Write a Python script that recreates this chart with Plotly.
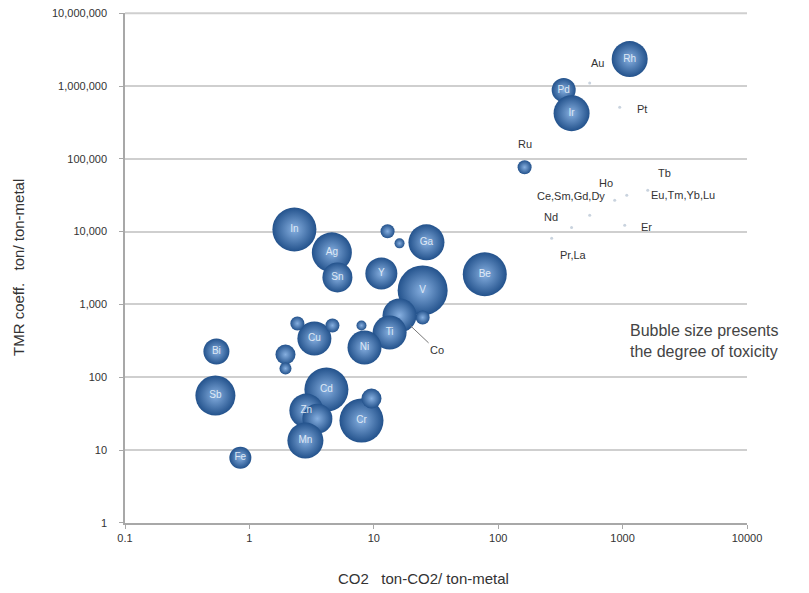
import math
import plotly.graph_objects as go

# ---- data ----
# labelled / unlabelled bubbles (CO2, TMR, toxicity)
bubble_names = ["In", "Ag", "Sn", "", "", "Ga", "Y", "V", "Be", "", "", "Ti",
                "Cu", "", "", "Ni", "", "Bi", "", "", "Sb", "Cd", "Zn", "", "Mn",
                "Cr", "", "Fe", "Rh", "Pd", "Ir", ""]
bubble_co2 = [2.3, 4.6, 5.1, 12.9, 16.1, 26.5, 11.5, 24.7, 78, 24.7, 16.1, 13.4,
              3.33, 2.43, 4.65, 8.42, 7.96, 0.543, 1.95, 1.95, 0.533, 4.16, 2.87, 3.52, 2.82,
              7.96, 9.58, 0.846, 1140, 336, 389, 163]
bubble_tmr = [10700, 5190, 2350, 10100, 6900, 7130, 2670, 1560, 2600, 662, 707, 412,
              340, 548, 514, 256, 514, 226, 205, 132, 56, 67.6, 34.8, 27, 13.5,
              25.4, 51, 7.85, 2350000, 880000, 424000, 76600]
toxicity = [22, 20, 15, 7, 5, 18, 16, 25, 22, 7, 17, 17,
            17, 7, 7, 17, 5, 13, 10, 6, 20, 22, 17, 15, 18,
            22, 10, 11, 18, 12, 18, 7]

# small points with outside labels
point_names = ["Au", "Pt", "Tb", "Ho", "Ce,Sm,Gd,Dy", "Eu,Tm,Yb,Lu", "Nd", "Er", "Pr,La"]
point_co2 = [544, 948, 1592, 864, 544, 1080, 389, 1040, 269]
point_tmr = [1100000, 513000, 37000, 27000, 16800, 31600, 11400, 12200, 8100]
label_dx = [8, 22, 17, -9, -19, 56, -21, 22, 22]
label_dy = [20, -2, 17, 17, 19, 0, 10, -2, -17]

x_ticks = [0.1, 1, 10, 100, 1000, 10000]
x_ticktext = ["0.1", "1", "10", "100", "1000", "10000"]
y_ticks = [1, 10, 100, 1000, 10000, 100000, 1000000, 10000000]
y_ticktext = ["1", "10", "100", "1,000", "10,000", "100,000", "1,000,000", "10,000,000"]

FONT = "Liberation Sans, Arial"
Y_RANGE = [-0.002, 7.003]

fig = go.Figure()

fig.add_trace(go.Scatter(
    x=point_co2, y=point_tmr, mode="markers",
    marker=dict(size=3, color="#c9d3de", line=dict(width=0)),
    hoverinfo="skip", showlegend=False,
))

fig.add_trace(go.Scatter(
    x=bubble_co2, y=bubble_tmr, mode="markers+text",
    text=bubble_names, textposition="middle center",
    textfont=dict(family=FONT, size=10, color="#dfe8f4"),
    marker=dict(size=toxicity, sizemode="diameter", sizeref=0.5,
                color="#23528c", opacity=1,
                gradient=dict(type="radial", color="#86afe0"),
                line=dict(width=0)),
    showlegend=False, hoverinfo="text",
))

lg = math.log10
annotations = []
for n, xv, yv, dx, dy in zip(point_names, point_co2, point_tmr, label_dx, label_dy):
    annotations.append(dict(x=lg(xv), y=lg(yv), xref="x", yref="y", text=n, showarrow=False,
                            xshift=dx, yshift=dy,
                            font=dict(family=FONT, size=11, color="#333")))
# Ruthenium label above its bubble
annotations.append(dict(x=lg(bubble_co2[31]), y=lg(bubble_tmr[31]), xref="x", yref="y", text="Ru",
                        showarrow=False, yshift=23,
                        font=dict(family=FONT, size=11, color="#333")))
# Cobalt with leader line
annotations.append(dict(x=lg(bubble_co2[10]), y=lg(bubble_tmr[10]), xref="x", yref="y", text="Co",
                        showarrow=True, arrowhead=0, arrowwidth=1, arrowcolor="#777",
                        ax=37, ay=35, standoff=15,
                        font=dict(family=FONT, size=11, color="#333")))
annotations.append(dict(x=0.809, y=0.357, xref="paper", yref="paper", xanchor="left",
                        yanchor="middle", align="left", showarrow=False,
                        text="Bubble size presents<br>the degree of toxicity",
                        font=dict(family=FONT, size=16, color="#444")))
annotations.append(dict(x=0.48, y=-0.108, xref="paper", yref="paper", xanchor="center",
                        yanchor="middle", showarrow=False,
                        text="CO2\u00a0\u00a0\u00a0ton-CO2/ ton-metal",
                        font=dict(family=FONT, size=15, color="#333")))
annotations.append(dict(x=-0.172, y=0.5, xref="paper", yref="paper", xanchor="center",
                        yanchor="middle", showarrow=False, textangle=-90,
                        text="TMR coeff.\u00a0\u00a0\u00a0ton/ ton-metal",
                        font=dict(family=FONT, size=15, color="#333")))

# top gridline (plotly clips gridlines lying on the plot edge)
top_frac = (lg(y_ticks[-1]) - Y_RANGE[0]) / (Y_RANGE[1] - Y_RANGE[0])
shapes = [dict(type="line", xref="paper", yref="paper", x0=0, x1=1,
               y0=top_frac, y1=top_frac, line=dict(color="#cfcfcf", width=2), layer="below")]

fig.update_layout(
    width=801, height=585,
    margin=dict(l=117, r=62, t=5, b=70),
    paper_bgcolor="white", plot_bgcolor="white",
    annotations=annotations, shapes=shapes,
    xaxis=dict(type="log", range=[-1, 4], tickvals=x_ticks, ticktext=x_ticktext,
               showgrid=False, zeroline=False, showline=True, linecolor="#a8a8a8",
               linewidth=1.5, ticks="outside", ticklen=4, tickcolor="#a8a8a8",
               automargin=False, ticklabeloverflow="allow",
               tickfont=dict(family=FONT, size=11, color="#333")),
    yaxis=dict(type="log", range=Y_RANGE, tickvals=y_ticks, ticktext=y_ticktext,
               showgrid=True, gridcolor="#cfcfcf", gridwidth=2, zeroline=False,
               showline=True, linecolor="#a8a8a8", linewidth=1.5, automargin=False,
               ticklabeloverflow="allow",
               ticks="outside", ticklen=4, tickcolor="#a8a8a8", ticklabelstandoff=10,
               tickfont=dict(family=FONT, size=11, color="#333")),
)

fig.write_html("out.html")
